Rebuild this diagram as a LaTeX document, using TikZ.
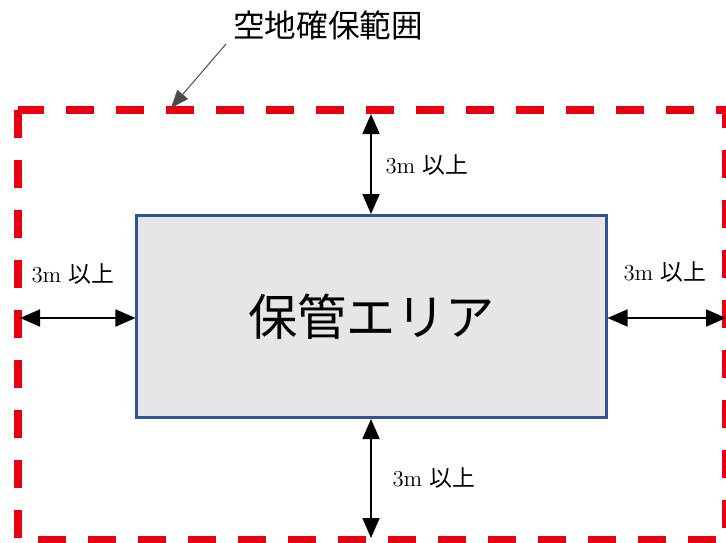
\documentclass[tikz,border=0pt]{standalone}
\usepackage{fontspec}
\newfontfamily\cjk{Noto Sans CJK JP}
\usetikzlibrary{arrows.meta}
\definecolor{zonered}{RGB}{230,0,18}
\definecolor{areablue}{RGB}{47,85,151}
\definecolor{areagray}{RGB}{231,229,232}
\tikzset{
  dist/.style={{Triangle[length=4mm,width=3.4mm]}-{Triangle[length=4mm,width=3.4mm]},line width=0.35mm},
  distlabel/.style={font=\fontsize{13}{13}\selectfont},
}
\begin{document}
\begin{tikzpicture}[x=0.2mm,y=-0.2mm]
        \useasboundingbox (0,0) rectangle (726,542);
        % space to keep clear
        \draw[zonered,line width=1.6mm,dash pattern=on 5.6mm off 4.4mm] (18,110) rectangle (726,540);
        \node[draw=areablue,line width=0.6mm,fill=areagray,minimum width=93.8mm,minimum height=40.4mm,inner sep=0pt,font=\cjk\fontsize{28}{28}\selectfont] (area) at (371.5,316.5) {保管エリア};
        \node[font=\cjk\fontsize{18}{18}\selectfont] (zone) at (328,25) {空地確保範囲};
        \coordinate (zonetip) at (171,108);
        \draw[gray!60!black,line width=0.2mm,-{Triangle[length=3.6mm,width=2.8mm]}] (226,44) -- (zonetip);
        % distances
        \coordinate (top) at (371,114);
        \coordinate (bottom) at (371,538);
        \coordinate (left) at (20,318);
        \coordinate (right) at (726,318);
        \draw[dist] (top) -- (top |- area.north);
        \draw[dist] (area.south -| bottom) -- (bottom);
        \draw[dist] (left) -- (left -| area.west);
        \draw[dist] (area.east |- right) -- (right);
        \node[distlabel] (toplabel) at (427,165) {3m \cjk 以上};
        \node[distlabel] (bottomlabel) at (434,478) {3m \cjk 以上};
        \node[distlabel] (leftlabel) at (73,274) {3m \cjk 以上};
        \node[distlabel] (rightlabel) at (665,272) {3m \cjk 以上};
\end{tikzpicture}
\end{document}
